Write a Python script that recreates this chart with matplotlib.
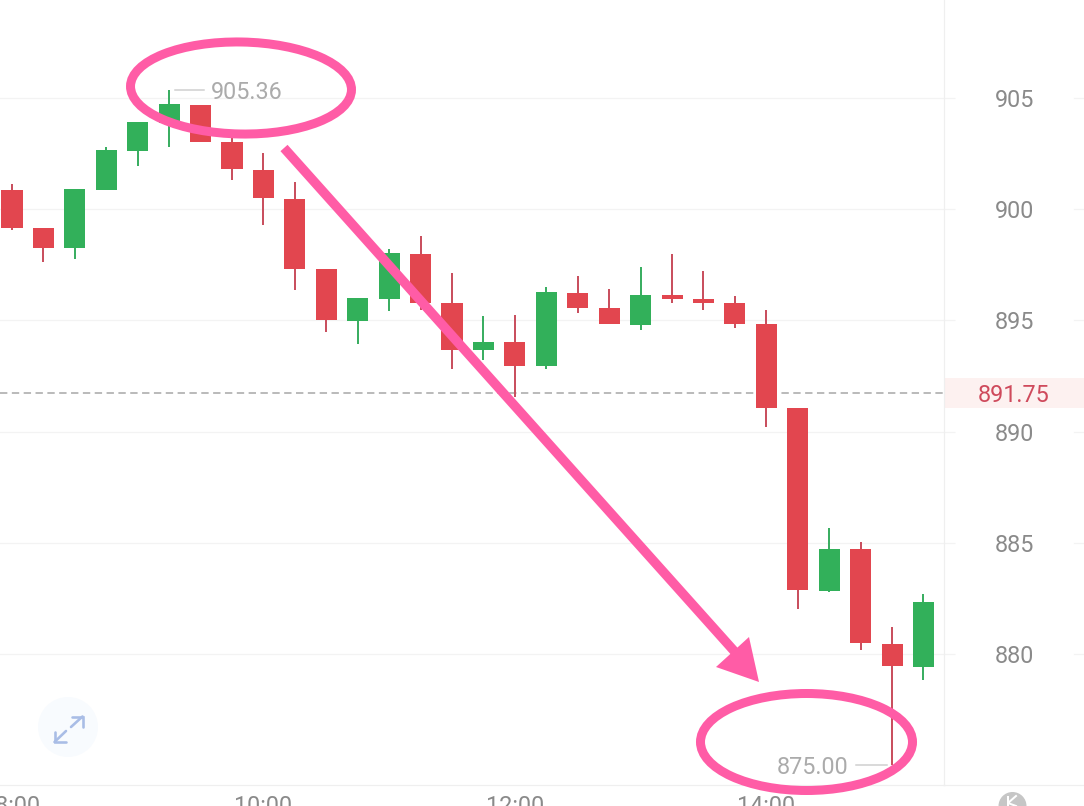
import matplotlib
matplotlib.use("Agg")
import matplotlib.pyplot as plt
from matplotlib.patches import Ellipse, Polygon, Circle, Rectangle

plt.rcParams['font.family'] = ['Roboto', 'DejaVu Sans']

# 15-minute candles
opens  = [900.86, 899.14, 898.24, 900.85, 902.60, 903.88, 904.70, 903.02, 901.76, 900.47,
          897.31, 894.99, 895.98, 897.99, 895.77, 893.67, 894.03, 892.96, 896.25, 895.57,
          894.79, 896.14, 895.96, 895.78, 894.84, 891.06, 882.85, 884.71, 880.47, 879.43]
highs  = [901.13, 899.14, 900.89, 902.78, 903.93, 905.36, 904.70, 903.20, 902.51, 901.24,
          897.31, 896.03, 898.20, 898.80, 897.12, 895.19, 895.24, 896.52, 896.99, 896.40,
          897.39, 897.99, 897.23, 896.10, 895.47, 891.06, 885.68, 885.02, 881.21, 882.71]
lows   = [899.07, 897.63, 897.75, 900.85, 901.96, 902.81, 903.02, 901.31, 899.29, 896.37,
          894.49, 893.94, 895.42, 895.47, 892.81, 893.22, 891.57, 892.80, 895.32, 894.83,
          894.56, 895.78, 895.46, 894.67, 890.22, 882.03, 882.80, 880.18, 875.00, 878.83]
closes = [899.14, 898.26, 900.89, 902.66, 903.93, 904.73, 903.02, 901.79, 900.50, 897.31,
          895.02, 896.03, 898.02, 895.78, 893.67, 894.04, 892.96, 896.26, 895.57, 894.83,
          896.16, 895.98, 895.80, 894.83, 891.06, 882.88, 884.72, 880.50, 879.46, 882.34]
price_ticks = [880, 885, 890, 895, 900, 905]
time_idx = [0, 8, 16, 24]
time_labels = ["08:00", "10:00", "12:00", "14:00"]
last_price = 891.75
max_price = 905.36
min_price = 875.00
max_idx = 5
min_idx = 28

RED, GREEN = "#E2464F", "#32B05A"
RED_W, GREEN_W = "#C9505F", "#3BAE62"
PINK = "#FF5CA6"
LIGHT = "#F3F3F3"
px = 0.72  # points per pixel at dpi 100
W, H = 1084, 806
PLOT_R, PLOT_B = 944, 785
FS = 16.8

fig = plt.figure(figsize=(W / 100, H / 100), dpi=100, facecolor="white")
ax = fig.add_axes([0, (H - PLOT_B) / H, PLOT_R / W, PLOT_B / H])
ax.set_xlim(-12 / 31.43, (PLOT_R - 12) / 31.43)
ax.set_ylim(909.406 - PLOT_B * 0.04496, 909.406)
ax.set_axisbelow(True)

for s in ("left", "top"):
    ax.spines[s].set_visible(False)
for s in ("right", "bottom"):
    ax.spines[s].set_color("#EFEFEF")
    ax.spines[s].set_linewidth(1.2 * px)

ax.yaxis.tick_right()
ax.set_yticks(price_ticks)
ax.tick_params(axis="y", length=11 * px, width=1.2 * px, color=LIGHT, pad=40 * px,
               labelsize=FS, labelcolor="#8A8A8A")
ax.set_xticks(time_idx)
ax.set_xticklabels(time_labels)
ax.tick_params(axis="x", length=0, pad=10 * px, labelsize=FS, labelcolor="#8A8A8A")
ax.grid(axis="y", color=LIGHT, lw=1.2 * px)

yt = ax.get_yaxis_transform()
for p in price_ticks:
    ax.plot([1074 / PLOT_R, W / PLOT_R], [p, p], transform=yt, color=LIGHT,
            lw=1.2 * px, clip_on=False, zorder=1)
ax.plot([1, W / PLOT_R], [0, 0], transform=ax.transAxes, color="#EFEFEF", lw=1.2 * px, clip_on=False)

# candles
for i, (o, h, l, c) in enumerate(zip(opens, highs, lows, closes)):
    up = c >= o
    ax.vlines(i, l, h, color=GREEN_W if up else RED_W, lw=2 * px, zorder=3)
    ax.bar(i, abs(c - o), bottom=min(o, c), width=0.67,
           color=GREEN if up else RED, zorder=4)

# last price line and label
ax.axhline(last_price, color="#ABABAB", lw=1.6 * px, linestyle=(0, (4.6, 2.8)), zorder=2)
ax.add_patch(Rectangle((1, last_price - 0.67), (W - PLOT_R) / PLOT_R, 1.34, transform=yt,
                       facecolor="#FDF1F0", edgecolor="none", clip_on=False, zorder=1))
ax.text(1014 / PLOT_R, last_price, f"{last_price:.2f}", transform=yt, ha="center",
        va="center_baseline", fontsize=FS, color="#CF4A5C", clip_on=False, zorder=5)

# high / low markers
ax.plot([max_idx + 0.2, max_idx + 1.1], [max_price, max_price], color="#CFCFCF", lw=1.5 * px, zorder=3)
ax.text(max_idx + 1.33, max_price, f"{max_price:.2f}", ha="left", va="center_baseline",
        fontsize=FS, color="#ABABAB", zorder=5)
ax.plot([min_idx - 1.15, min_idx - 0.15], [min_price, min_price], color="#CFCFCF", lw=1.5 * px, zorder=3)
ax.text(min_idx - 1.37, min_price, f"{min_price:.2f}", ha="right", va="center_baseline",
        fontsize=FS, color="#ABABAB", zorder=5)

# overlay in pixel coordinates for the hand-drawn annotations and icons
ov = fig.add_axes([0, 0, 1, 1], facecolor="none")
ov.set_xlim(0, W)
ov.set_ylim(H, 0)
ov.axis("off")

ov.add_patch(Ellipse((241, 88), 221, 92, angle=1, fill=False, edgecolor=PINK, lw=9 * px))
ov.add_patch(Ellipse((806.5, 742), 212, 97, fill=False, edgecolor=PINK, lw=9 * px))
ov.plot([284, 735], [148, 652], color=PINK, lw=9.5 * px, solid_capstyle="butt")
ov.add_patch(Polygon([(749, 637), (716, 667), (759, 682)], closed=True, facecolor=PINK, edgecolor="none"))

# expand icon
ov.add_patch(Circle((68, 727), 30, facecolor="#F8FBFE", edgecolor="none", zorder=1))
ICON = "#A9BDE6"
for xs, ys in (([71, 82.5], [727, 716.5]), ([71.5, 82.5, 82.5], [716.5, 716.5, 727]),
               ([66, 54.5], [731, 742]), ([54.5, 54.5, 65.5], [731.5, 742, 742])):
    ov.plot(xs, ys, color=ICON, lw=2.6 * px, solid_capstyle="round", solid_joinstyle="miter", zorder=2)

# K badge
ov.add_patch(Circle((1012.5, 806), 14, facecolor="#C6C6C6", edgecolor="none"))
ov.plot([1008, 1008], [797, 806], color="white", lw=2 * px)
ov.plot([1016, 1008, 1016], [796, 803, 806], color="white", lw=2 * px)

fig.savefig("out.png", dpi=100, facecolor="white")
